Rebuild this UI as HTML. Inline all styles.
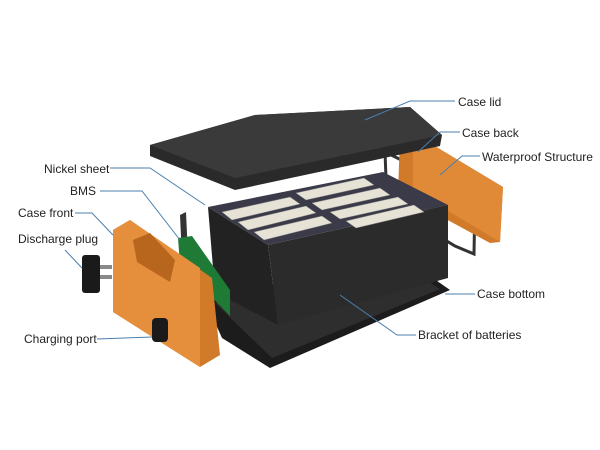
<!DOCTYPE html>
<html><head><meta charset="utf-8"><style>
html,body{margin:0;padding:0;background:#fff;width:600px;height:450px;overflow:hidden}
svg{display:block}
text{font-family:"Liberation Sans",sans-serif;font-size:12px;fill:#222}
</style></head><body>
<svg width="600" height="450" viewBox="0 0 600 450">
<!-- bottom tray -->
<polygon points="205,300 400,255 450,290 270,368 222,338" fill="#1c1c1c"/>
<polygon points="215,303 398,262 440,289 272,358" fill="#2e2e2e"/>
<!-- case back gasket -->
<polygon points="385,152 475,196 474,254 455,246 387,205" fill="none" stroke="#333" stroke-width="3"/>
<!-- case back orange -->
<polygon points="400,137 413,133 503,187 500,242 490,243 398,193" fill="#d07a2a"/>
<polygon points="413,133 503,187 500,242 413,190" fill="#e08a38"/>
<!-- battery block -->
<polygon points="208,207 268,245 278,325 215,292" fill="#222"/>
<polygon points="268,245 448,205 448,278 278,325" fill="#2b2b2b"/>
<polygon points="208,207 383,172 448,205 268,245" fill="#3a3a48"/>
<!-- nickel strips -->
<g fill="#e6e2d6" stroke="#888" stroke-width="0.5">
<polygon points="222,212 290,197 300,204 232,220"/>
<polygon points="238,222 306,206 316,213 248,230"/>
<polygon points="254,232 322,216 332,223 264,240"/>
<polygon points="296,193 364,178 374,185 306,200"/>
<polygon points="312,203 380,188 390,195 322,210"/>
<polygon points="330,212 398,197 408,204 340,219"/>
<polygon points="346,221 414,205 424,212 356,228"/>
</g>
<polygon points="180,215 186,212 190,300 184,302" fill="#333"/>
<!-- green BMS -->
<polygon points="178,238 192,236 230,290 230,316 180,264" fill="#1e7a35"/>
<!-- case lid -->
<polygon points="150,145 255,115 410,107 442,135 440,146 235,190 150,156" fill="#2a2a2a"/>
<polygon points="150,145 255,115 410,107 442,135 235,178" fill="#3a3a3a"/>
<!-- case front orange -->
<polygon points="113,230 130,220 212,278 220,355 200,367 113,312" fill="#d07a2a"/>
<polygon points="113,230 130,220 200,268 200,367 113,312" fill="#e58f3c"/>
<polygon points="133,240 150,233 175,260 170,282 137,262" fill="#b8651e"/>
<!-- plugs -->
<rect x="82" y="255" width="18" height="38" rx="3" fill="#1a1a1a"/>
<rect x="100" y="265" width="12" height="4" fill="#888"/>
<rect x="100" y="275" width="12" height="4" fill="#888"/>
<rect x="152" y="318" width="16" height="24" rx="4" fill="#1a1a1a"/>
<!-- leader lines -->
<g fill="none" stroke="#4a7fae" stroke-width="1">
<polyline points="455,101 410,101 365,120"/>
<polyline points="460,132 440,132 418,152"/>
<polyline points="480,156 462,156 440,175"/>
<polyline points="110,168 150,168 205,205"/>
<polyline points="100,191 142,191 180,240"/>
<polyline points="75,213 92,213 113,235"/>
<polyline points="65,250 82,268"/>
<polyline points="475,294 445,294"/>
<polyline points="416,335 397,335 340,295"/>
<polyline points="97,339 152,337"/>
</g>
<text x="458" y="106">Case lid</text>
<text x="462" y="137">Case back</text>
<text x="482" y="161">Waterproof Structure</text>
<text x="44" y="173">Nickel sheet</text>
<text x="70" y="195">BMS</text>
<text x="18" y="217">Case front</text>
<text x="18" y="243">Discharge plug</text>
<text x="477" y="298">Case bottom</text>
<text x="418" y="339">Bracket of batteries</text>
<text x="24" y="343">Charging port</text>
</svg>
</body></html>
